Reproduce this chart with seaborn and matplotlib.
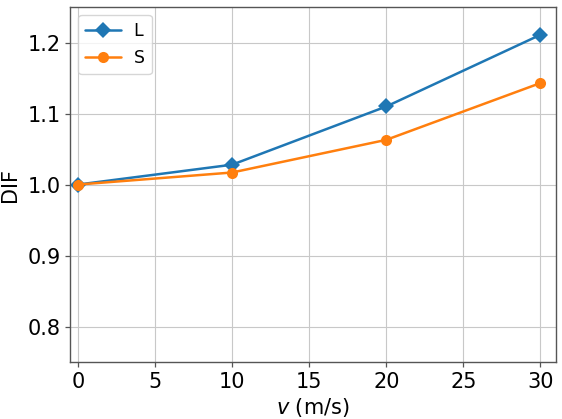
import pandas as pd
import matplotlib
matplotlib.use("Agg")
import matplotlib.pyplot as plt
import seaborn as sns

# data
speed = [0, 10, 20, 30]
dif_l = [1.0, 1.028, 1.110, 1.211]
dif_s = [1.0, 1.017, 1.063, 1.143]
series_names = ["L", "S"]

df = pd.DataFrame({
    "v": speed * 2,
    "DIF": dif_l + dif_s,
    "series": [series_names[0]] * len(speed) + [series_names[1]] * len(speed),
})

sns.set_style("whitegrid", {
    "axes.edgecolor": "#555555",
    "grid.color": "#c8c8c8",
    "text.color": "black",
    "axes.labelcolor": "black",
    "xtick.color": "black",
    "ytick.color": "black",
    "xtick.bottom": True,
    "ytick.left": True,
})
plt.rcParams["font.family"] = ["DejaVu Sans"]

fig, ax = plt.subplots(figsize=(5.62, 4.19), dpi=100)
sns.lineplot(data=df, x="v", y="DIF", hue="series", style="series",
             markers={"L": "D", "S": "o"}, dashes=False,
             palette=["#1f77b4", "#ff7f0e"], markersize=8, linewidth=1.8,
             markeredgewidth=0, ax=ax)

ax.set_xlim(-0.5, 31)
ax.set_ylim(0.75, 1.25)
ax.set_xticks([0, 5, 10, 15, 20, 25, 30])
ax.set_yticks([0.8, 0.9, 1.0, 1.1, 1.2])
ax.tick_params(labelsize=15, length=3.5, width=0.9, color="#555555", pad=3.5)
ax.set_xlabel(r"$v$ (m/s)", fontsize=15, labelpad=3)
ax.set_ylabel("DIF", fontsize=15, labelpad=5)
for s in ax.spines.values():
    s.set_linewidth(1.0)

leg = ax.legend(title=None, fontsize=12.5, loc="upper left",
                handlelength=2.1, handletextpad=0.7, labelspacing=0.55,
                borderaxespad=0.45)
plt.subplots_adjust(left=0.125, right=0.989, top=0.983, bottom=0.136)
fig.savefig("out.png", dpi=100)
